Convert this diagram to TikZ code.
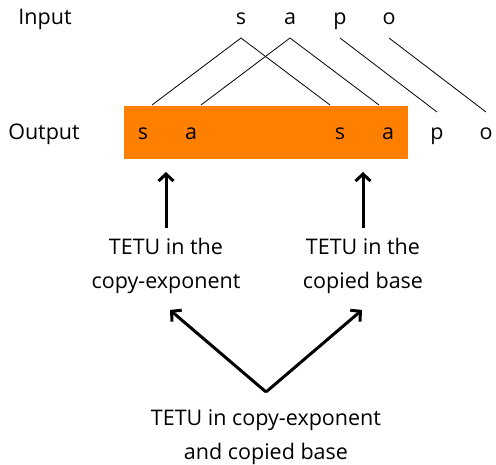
\documentclass[tikz,border=0pt]{standalone}
\usepackage{fontspec}
\setmainfont{Open Sans}
\usetikzlibrary{arrows.meta}
\definecolor{boxorange}{HTML}{FF8000}
\begin{document}
\begin{tikzpicture}[x=1pt,y=-1pt,
  every node/.style={font=\fontsize{21.5}{24}\selectfont, inner sep=0pt},
  letter/.style={anchor=base},
  assoc/.style={line width=0.8pt},
  bigarrow/.style={line width=3pt, -{Straight Barb[length=7pt,width=15pt,line width=3pt]}},
  label/.style={align=center, anchor=base, font=\fontsize{21.5}{34.5}\selectfont}]
\useasboundingbox (0,0) rectangle (496,465);
\fill[boxorange] (124,106) rectangle (408,159);
\node[letter] (inlab) at (45,25) {Input};
\node[letter] (outlab) at (44,140) {Output};
\node[letter] (is) at (241,25) {s};
\node[letter] (ia) at (290,25) {a};
\node[letter] (ip) at (340,25) {p};
\node[letter] (io) at (389,25) {o};
\node[letter] (os1) at (143,140) {s};
\node[letter] (oa1) at (191,140) {a};
\node[letter] (os2) at (340,140) {s};
\node[letter] (oa2) at (388,140) {a};
\node[letter] (op) at (437,140) {p};
\node[letter] (oo) at (486,140) {o};
\draw[assoc] ([yshift=-13pt]is.base) -- ([xshift=9pt,yshift=35pt]os1.base);
\draw[assoc] ([yshift=-13pt]is.base) -- ([xshift=-10pt,yshift=35pt]os2.base);
\draw[assoc] ([yshift=-13pt]ia.base) -- ([xshift=10pt,yshift=35pt]oa1.base);
\draw[assoc] ([yshift=-13pt]ia.base) -- ([xshift=-9pt,yshift=35pt]oa2.base);
\draw[assoc] ([yshift=-13pt]ip.base) -- ([yshift=28pt]op.base);
\draw[assoc] ([yshift=-13pt]io.base) -- ([yshift=28pt]oo.base);
\node[label] (tl) at (166,289) {TETU in the\\copy-exponent};
\node[label] (tr) at (363,289) {TETU in the\\copied base};
\node[label] (tb) at (266,460) {TETU in copy-exponent\\and copied base};
\coordinate (lt) at (166,172);
\coordinate (rt) at (363,172);
\coordinate (lb) at (166,228);
\coordinate (rb) at (363,228);
\coordinate (vtx) at (266,392);
\draw[bigarrow] (lb) -- (lt);
\draw[bigarrow] (rb) -- (rt);
\coordinate (dl) at (170,310);
\coordinate (dr) at (362,310);
\draw[bigarrow] (vtx) -- (dl);
\draw[bigarrow] (vtx) -- (dr);
\end{tikzpicture}
\end{document}
